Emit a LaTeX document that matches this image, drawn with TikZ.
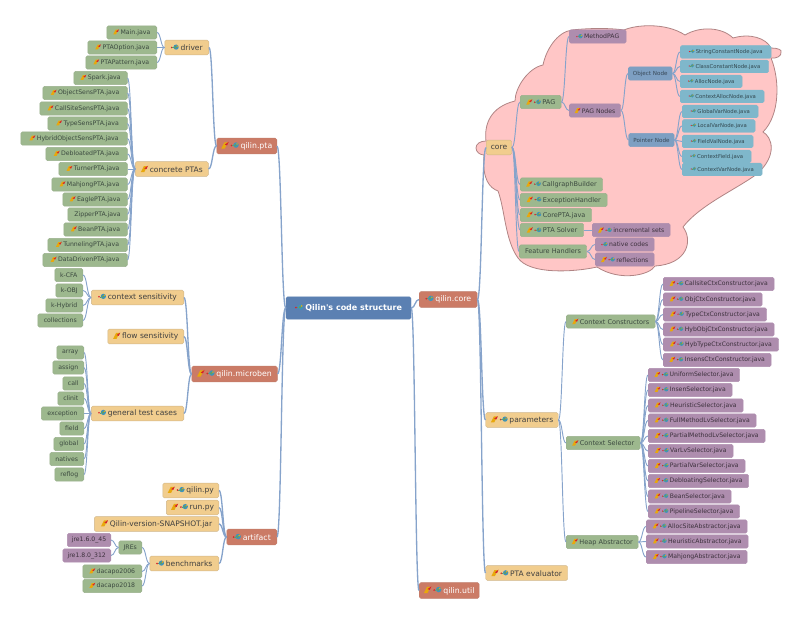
\documentclass[tikz,border=0pt]{standalone}
\usepackage{fontspec}
\setmainfont{DejaVu Sans}
\usetikzlibrary{calc}

\definecolor{rootblue}{HTML}{5B80B2}
\definecolor{salmon}{HTML}{CB7B66}
\definecolor{sand}{HTML}{F1CD8E}
\definecolor{moss}{HTML}{9DB88E}
\definecolor{plum}{HTML}{AE8DAE}
\definecolor{steel}{HTML}{7D9FC2}
\definecolor{lagoon}{HTML}{7FB7CB}
\definecolor{linkblue}{HTML}{86A3CB}
\definecolor{cloudpink}{HTML}{FFC6C6}
\definecolor{cloudedge}{HTML}{B08484}
\definecolor{darktext}{HTML}{3C4A40}
\definecolor{iconyel}{HTML}{E8A80C}
\definecolor{iconred}{HTML}{D8202C}
\definecolor{iconblue}{HTML}{3F93BC}
\definecolor{icongreen}{HTML}{5FA060}

\newcommand{\icp}{\tikz[x=1em,y=1em,baseline=0pt,sharp corners]{\fill[iconyel] (0,0) -- (.45,0) -- (.85,.8) -- (.4,.8) -- cycle; \fill[iconred] (.45,.5) -- (.95,.85) -- (.75,.4) -- cycle;}\hspace{.24em}}
\newcommand{\icd}{\tikz[x=1em,y=1em,baseline=0pt,sharp corners]{\fill[iconred] (.1,.38) circle (.12); \fill[icongreen] (.2,.34) rectangle (.36,.42); \fill[iconblue] (.68,.44) circle (.35); \fill[icongreen] (.6,.42) circle (.17); \fill[iconyel] (.82,.58) circle (.11);}\hspace{.24em}}
\newcommand{\icpd}{\icp\icd}

\tikzset{
  boxbase/.style={rounded corners=1.2pt,line width=.35pt,inner sep=0pt,align=center},
  wd/.style={minimum width=#1*0.75pt},
  lft/.style={anchor=east},
  rgt/.style={anchor=west},
  rootbox/.style={boxbase,fill=rootblue,draw=rootblue,text=white,minimum height=16.8pt,font=\fontsize{6}{7}\selectfont\bfseries},
  pack/.style={boxbase,fill=salmon,draw=salmon!85!gray,text=white,minimum height=11.7pt,font=\fontsize{5.85}{7}\selectfont},
  branch/.style={boxbase,fill=sand,draw=sand!70!gray,text=black!75,minimum height=11.2pt,font=\fontsize{5.65}{7}\selectfont},
  leafg/.style={boxbase,fill=moss,draw=moss!85!gray,text=darktext,minimum height=9.9pt,font=\fontsize{4.65}{5}\selectfont},
  midg/.style={leafg,font=\fontsize{4.9}{6}\selectfont},
  leafp/.style={boxbase,fill=plum,draw=plum,text=black!65!plum,minimum height=9.9pt,font=\fontsize{4.6}{5}\selectfont},
  leafs/.style={boxbase,fill=steel,draw=steel,text=black!55!steel,minimum height=9.9pt,font=\fontsize{4.2}{5}\selectfont},
  leaft/.style={boxbase,fill=lagoon,draw=lagoon,text=black!60!lagoon,minimum height=9.4pt,font=\fontsize{4}{5}\selectfont},
  curvelink/.style={to path={let \p1=(\tikztostart),\p2=(\tikztotarget) in .. controls (0.5*\x1+0.5*\x2,\y1) and (0.5*\x1+0.5*\x2,\y2) .. (\tikztotarget)}},
  link/.style={draw=linkblue,line width=.7pt,curvelink},
  mainlink/.style={draw=linkblue,line width=1pt,curvelink},
  cloudy/.style={fill=cloudpink,draw=cloudedge,line width=.6pt}
}

\begin{document}
\begin{tikzpicture}[x=0.75pt,y=-0.75pt]
\useasboundingbox (0,0) rectangle (800,620);

\path[cloudy] (476,148) .. controls (476,144) and (480,141) .. (486,141)
  .. controls (484,125) and (490,107) .. (515,101)
  .. controls (515,88) and (528,68) .. (543,65)
  .. controls (546,50) and (557,32) .. (572,30)
  .. controls (590,28) and (610,28) .. (624,30)
  .. controls (635,25) and (665,22) .. (685,35)
  .. controls (700,26) and (722,27) .. (733,38)
  .. controls (750,33) and (766,38) .. (771,48)
  .. controls (778,48) and (782,50) .. (781,52)
  .. controls (782,56) and (776,59) .. (771,58)
  .. controls (780,80) and (780,115) .. (763,132)
  .. controls (772,137) and (778,155) .. (757,174)
  .. controls (735,190) and (700,205) .. (683,227)
  .. controls (693,240) and (688,264) .. (655,266)
  .. controls (650,275) and (620,282) .. (597,267)
  .. controls (575,272) and (530,275) .. (518,258)
  .. controls (505,240) and (505,210) .. (498,191)
  .. controls (490,188) and (482,180) .. (484,155)
  .. controls (480,155) and (476,152) .. (476,148) -- cycle;

\node[rootbox,wd=125] (root) at (348.5,308) {\icd Qilin\textquotesingle s code structure};

\node[pack,wd=60,lft] (xpta) at (277,146) {\icpd qilin.pta};
\node[pack,wd=85.5,lft] (xmicroben) at (277.5,374) {\icpd qilin.microben};
\node[pack,wd=50,lft] (xartifact) at (277,537) {\icd artifact};
\node[pack,wd=58,rgt] (xcore) at (419,299.5) {\icd qilin.core};
\node[pack,wd=60,rgt] (xutil) at (419,590.5) {\icpd qilin.util};

\node[branch,wd=44,lft] (driver) at (209,47.5) {\icd driver};
\node[branch,wd=73,lft] (concrete) at (208.5,169) {\icp concrete PTAs};
\node[leafg,wd=50,lft] (mainj) at (157,32.5) {\icp Main.java};
\node[leafg,wd=69,lft] (ptaoption) at (157,47.5) {\icp PTAOption.java};
\node[leafg,wd=71,lft] (ptapattern) at (157,62.5) {\icp PTAPattern.java};
\node[leafg,wd=53.5,lft] (spark) at (127.5,78) {\icp Spark.java};
\node[leafg,wd=84.5,lft] (objsens) at (127.5,93) {\icp ObjectSensPTA.java};
\node[leafg,wd=87.5,lft] (callsens) at (127.5,108.5) {\icp CallSiteSensPTA.java};
\node[leafg,wd=79.5,lft] (typesens) at (127.5,123.5) {\icp TypeSensPTA.java};
\node[leafg,wd=106.5,lft] (hybrid) at (127.5,138.5) {\icp HybridObjectSensPTA.java};
\node[leafg,wd=81.5,lft] (debloated) at (127.5,154) {\icp DebloatedPTA.java};
\node[leafg,wd=68.5,lft] (turner) at (127.5,169) {\icp TurnerPTA.java};
\node[leafg,wd=75.5,lft] (mahjong) at (127.5,184.5) {\icp MahjongPTA.java};
\node[leafg,wd=64.5,lft] (eagle) at (127.5,199.5) {\icp EaglePTA.java};
\node[leafg,wd=59.5,lft] (zipper) at (127.5,214.5) {ZipperPTA.java};
\node[leafg,wd=63.5,lft] (bean) at (127.5,229.5) {\icp BeanPTA.java};
\node[leafg,wd=79.5,lft] (tunneling) at (127.5,245) {\icp TunnelingPTA.java};
\node[leafg,wd=84.5,lft] (datadriven) at (127.5,260) {\icp DataDrivenPTA.java};

\node[branch,wd=92.5,lft] (ctxsens) at (184,297.5) {\icd context sensitivity};
\node[branch,wd=76,lft] (flowsens) at (184,336.5) {\icp flow sensitivity};
\node[branch,wd=92.5,lft] (general) at (184,413.5) {\icd general test cases};
\node[leafg,wd=28,lft] (kcfa) at (83,275) {k-CFA};
\node[leafg,wd=27,lft] (kobj) at (83,290.5) {k-OBJ};
\node[leafg,wd=37,lft] (khybrid) at (83,305.5) {k-Hybrid};
\node[leafg,wd=45,lft] (collections) at (83,320.5) {collections};
\node[leafg,wd=27,lft] (array) at (84,352.5) {array};
\node[leafg,wd=31,lft] (assign) at (84,367.5) {assign};
\node[leafg,wd=21,lft] (call) at (84,383.5) {call};
\node[leafg,wd=26,lft] (clinit) at (84,398.5) {clinit};
\node[leafg,wd=42.5,lft] (exception) at (84,413.5) {exception};
\node[leafg,wd=24,lft] (field) at (84,428.5) {field};
\node[leafg,wd=30,lft] (global) at (84,444) {global};
\node[leafg,wd=34,lft] (natives) at (84,459) {natives};
\node[leafg,wd=29,lft] (reflog) at (84,474.5) {reflog};

\node[branch,wd=56,lft] (qilinpy) at (219,490.5) {\icpd qilin.py};
\node[branch,wd=52.5,lft] (runpy) at (219,507.5) {\icpd run.py};
\node[branch,wd=124.5,lft] (snapshot) at (219,524) {\icp Qilin-version-SNAPSHOT.jar};
\node[branch,wd=69,lft] (benchmarks) at (219,563.5) {\icd benchmarks};
\node[leafg,wd=23,lft] (jres) at (142,547.5) {JREs};
\node[leafg,wd=59,lft] (dacapoa) at (142,571.5) {\icp dacapo2006};
\node[leafg,wd=59,lft] (dacapob) at (142,586) {\icp dacapo2018};
\node[leafp,wd=43.5,lft] (jreold) at (111,540) {jre1.6.0\_45};
\node[leafp,wd=48,lft] (jrenew) at (111,555.5) {jre1.8.0\_312};

\node[branch,wd=25.5,rgt] (core) at (486,147.5) {core};
\node[branch,wd=72.5,rgt] (parameters) at (485.5,420) {\icpd parameters};
\node[branch,wd=82,rgt] (evaluator) at (485.5,573) {\icpd PTA evaluator};

\node[midg,wd=41,rgt] (pag) at (520,102) {\icpd PAG};
\node[midg,wd=82.5,rgt] (callgraph) at (520,184.5) {\icpd CallgraphBuilder};
\node[midg,wd=87,rgt] (exchandler) at (520,200) {\icpd ExceptionHandler};
\node[midg,wd=71.5,rgt] (corepta) at (520,215) {\icpd CorePTA.java};
\node[midg,wd=63.5,rgt] (solver) at (520,230) {\icpd PTA Solver};
\node[midg,wd=67.5,rgt] (handlers) at (519,251.5) {Feature Handlers};
\node[leafp,wd=57,rgt] (methodpag) at (569,36.5) {\icd MethodPAG};
\node[leafp,wd=51.5,rgt] (pagnodes) at (569,110.5) {\icp PAG Nodes};
\node[leafp,wd=78,rgt] (incremental) at (592,230) {\icpd incremental sets};
\node[leafp,wd=59,rgt] (nativecodes) at (595,244.5) {\icd native codes};
\node[leafp,wd=59,rgt] (reflections) at (595,259.5) {\icpd reflections};
\node[leafs,wd=44,rgt] (objnode) at (628,73.5) {Object Node};
\node[leafs,wd=45.5,rgt] (ptrnode) at (628.5,140) {Pointer Node};
\node[leaft,wd=91,rgt] (strconst) at (680,52) {\icd StringConstantNode.java};
\node[leaft,wd=88.5,rgt] (clsconst) at (680,66.5) {\icd ClassConstantNode.java};
\node[leaft,wd=62,rgt] (allocnode) at (680,81.5) {\icd AllocNode.java};
\node[leaft,wd=84,rgt] (ctxalloc) at (680,96.5) {\icd ContextAllocNode.java};
\node[leaft,wd=76,rgt] (globalvar) at (682,111.5) {\icd GlobalVarNode.java};
\node[leaft,wd=73,rgt] (localvar) at (682,126) {\icd LocalVarNode.java};
\node[leaft,wd=71,rgt] (fieldval) at (682,141.5) {\icd FieldValNode.java};
\node[leaft,wd=69,rgt] (ctxfield) at (682,156.5) {\icd ContextField.java};
\node[leaft,wd=80,rgt] (ctxvar) at (682,169.5) {\icd ContextVarNode.java};

\node[midg,wd=89,rgt] (ctxcons) at (566,321.5) {\icp Context Constructors};
\node[midg,wd=74,rgt] (ctxsel) at (566,443) {\icp Context Selector};
\node[midg,wd=72,rgt] (heapabs) at (566,542) {\icp Heap Abstractor};
\node[leafp,wd=111,rgt] (callsitec) at (663,284) {\icpd CallsiteCtxConstructor.java};
\node[leafp,wd=99,rgt] (objc) at (663,299.5) {\icpd ObjCtxConstructor.java};
\node[leafp,wd=103.5,rgt] (typec) at (663,314.5) {\icpd TypeCtxConstructor.java};
\node[leafp,wd=111,rgt] (hybobjc) at (663,329.5) {\icpd HybObjCtxConstructor.java};
\node[leafp,wd=115.5,rgt] (hybtypec) at (663,344.5) {\icpd HybTypeCtxConstructor.java};
\node[leafp,wd=108,rgt] (insensc) at (663,360) {\icpd InsensCtxConstructor.java};
\node[leafp,wd=91.5,rgt] (uniform) at (648,375) {\icpd UniformSelector.java};
\node[leafp,wd=84,rgt] (insen) at (648,390) {\icpd InsenSelector.java};
\node[leafp,wd=95,rgt] (heuristic) at (648,405.5) {\icpd HeuristicSelector.java};
\node[leafp,wd=108,rgt] (fullmethod) at (648,420.5) {\icpd FullMethodLvSelector.java};
\node[leafp,wd=117,rgt] (partialmethod) at (648,436) {\icpd PartialMethodLvSelector.java};
\node[leafp,wd=85,rgt] (varlv) at (648,451) {\icpd VarLvSelector.java};
\node[leafp,wd=97,rgt] (partialvar) at (648,466) {\icpd PartialVarSelector.java};
\node[leafp,wd=100.5,rgt] (debloating) at (648,481) {\icpd DebloatingSelector.java};
\node[leafp,wd=83,rgt] (beansel) at (648,496.5) {\icpd BeanSelector.java};
\node[leafp,wd=91.5,rgt] (pipeline) at (648,511.5) {\icpd PipelineSelector.java};
\node[leafp,wd=101,rgt] (allocabs) at (646,526.5) {\icpd AllocSiteAbstractor.java};
\node[leafp,wd=102,rgt] (heurabs) at (646,541.5) {\icpd HeuristicAbstractor.java};
\node[leafp,wd=101,rgt] (mahjongabs) at (646,557) {\icpd MahjongAbstractor.java};

\draw[mainlink] (root.west) to (xpta.east);
\draw[mainlink] (root.west) to (xmicroben.east);
\draw[mainlink] (root.west) to (xartifact.east);
\draw[mainlink] (root.east) to (xcore.west);
\draw[mainlink] (root.east) to (xutil.west);

\draw[mainlink] (xpta.west) to (driver.east);
\draw[mainlink] (xpta.west) to (concrete.east);
\draw[link] (driver.west) to (mainj.east);
\draw[link] (driver.west) to (ptaoption.east);
\draw[link] (driver.west) to (ptapattern.east);
\draw[link] (concrete.west) to (spark.east);
\draw[link] (concrete.west) to (objsens.east);
\draw[link] (concrete.west) to (callsens.east);
\draw[link] (concrete.west) to (typesens.east);
\draw[link] (concrete.west) to (hybrid.east);
\draw[link] (concrete.west) to (debloated.east);
\draw[link] (concrete.west) to (turner.east);
\draw[link] (concrete.west) to (mahjong.east);
\draw[link] (concrete.west) to (eagle.east);
\draw[link] (concrete.west) to (zipper.east);
\draw[link] (concrete.west) to (bean.east);
\draw[link] (concrete.west) to (tunneling.east);
\draw[link] (concrete.west) to (datadriven.east);

\draw[mainlink] (xmicroben.west) to (ctxsens.east);
\draw[mainlink] (xmicroben.west) to (flowsens.east);
\draw[mainlink] (xmicroben.west) to (general.east);
\draw[link] (ctxsens.west) to (kcfa.east);
\draw[link] (ctxsens.west) to (kobj.east);
\draw[link] (ctxsens.west) to (khybrid.east);
\draw[link] (ctxsens.west) to (collections.east);
\draw[link] (general.west) to (array.east);
\draw[link] (general.west) to (assign.east);
\draw[link] (general.west) to (call.east);
\draw[link] (general.west) to (clinit.east);
\draw[link] (general.west) to (exception.east);
\draw[link] (general.west) to (field.east);
\draw[link] (general.west) to (global.east);
\draw[link] (general.west) to (natives.east);
\draw[link] (general.west) to (reflog.east);

\draw[mainlink] (xartifact.west) to (qilinpy.east);
\draw[mainlink] (xartifact.west) to (runpy.east);
\draw[mainlink] (xartifact.west) to (snapshot.east);
\draw[mainlink] (xartifact.west) to (benchmarks.east);
\draw[link] (benchmarks.west) to (jres.east);
\draw[link] (benchmarks.west) to (dacapoa.east);
\draw[link] (benchmarks.west) to (dacapob.east);
\draw[link] (jres.west) to (jreold.east);
\draw[link] (jres.west) to (jrenew.east);

\draw[mainlink] (xcore.east) to (core.west);
\draw[mainlink] (xcore.east) to (parameters.west);
\draw[mainlink] (xcore.east) to (evaluator.west);
\draw[link] (core.east) to (pag.west);
\draw[link] (core.east) to (callgraph.west);
\draw[link] (core.east) to (exchandler.west);
\draw[link] (core.east) to (corepta.west);
\draw[link] (core.east) to (solver.west);
\draw[link] (core.east) to (handlers.west);
\draw[link] (pag.east) to (methodpag.west);
\draw[link] (pag.east) to (pagnodes.west);
\draw[link] (pagnodes.east) to (objnode.west);
\draw[link] (pagnodes.east) to (ptrnode.west);
\draw[link] (objnode.east) to (strconst.west);
\draw[link] (objnode.east) to (clsconst.west);
\draw[link] (objnode.east) to (allocnode.west);
\draw[link] (objnode.east) to (ctxalloc.west);
\draw[link] (ptrnode.east) to (globalvar.west);
\draw[link] (ptrnode.east) to (localvar.west);
\draw[link] (ptrnode.east) to (fieldval.west);
\draw[link] (ptrnode.east) to (ctxfield.west);
\draw[link] (ptrnode.east) to (ctxvar.west);
\draw[link] (solver.east) to (incremental.west);
\draw[link] (handlers.east) to (nativecodes.west);
\draw[link] (handlers.east) to (reflections.west);

\draw[link] (parameters.east) to (ctxcons.west);
\draw[link] (parameters.east) to (ctxsel.west);
\draw[link] (parameters.east) to (heapabs.west);
\draw[link] (ctxcons.east) to (callsitec.west);
\draw[link] (ctxcons.east) to (objc.west);
\draw[link] (ctxcons.east) to (typec.west);
\draw[link] (ctxcons.east) to (hybobjc.west);
\draw[link] (ctxcons.east) to (hybtypec.west);
\draw[link] (ctxcons.east) to (insensc.west);
\draw[link] (ctxsel.east) to (uniform.west);
\draw[link] (ctxsel.east) to (insen.west);
\draw[link] (ctxsel.east) to (heuristic.west);
\draw[link] (ctxsel.east) to (fullmethod.west);
\draw[link] (ctxsel.east) to (partialmethod.west);
\draw[link] (ctxsel.east) to (varlv.west);
\draw[link] (ctxsel.east) to (partialvar.west);
\draw[link] (ctxsel.east) to (debloating.west);
\draw[link] (ctxsel.east) to (beansel.west);
\draw[link] (ctxsel.east) to (pipeline.west);
\draw[link] (heapabs.east) to (allocabs.west);
\draw[link] (heapabs.east) to (heurabs.west);
\draw[link] (heapabs.east) to (mahjongabs.west);
\end{tikzpicture}
\end{document}
